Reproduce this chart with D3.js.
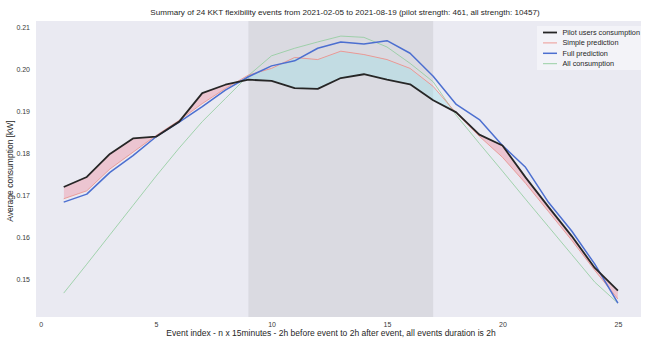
<!DOCTYPE html>
<html>
<head>
<meta charset="utf-8">
<script src="https://cdn.jsdelivr.net/npm/d3@7"></script>
<style>
  html, body { margin: 0; padding: 0; background: #ffffff; }
  svg { display: block; font-family: "Liberation Sans", Arial, sans-serif; }
</style>
</head>
<body>
<svg id="chart" width="646" height="341"></svg>
<script>
// Event index (15-minute steps, 2h before to 2h after the event)
const eventIndex = [1,2,3,4,5,6,7,8,9,10,11,12,13,14,15,16,17,18,19,20,21,22,23,24,25];

// Average consumption [kW] per series
const pilotConsumption = [0.1719,0.1743,0.1798,0.1835,0.1839,0.1875,0.1943,0.1963,0.1975,0.1972,0.1955,0.1953,0.1979,0.1988,0.1975,0.1964,0.1926,0.1897,0.1844,0.1818,0.1742,0.1671,0.1602,0.1526,0.1472];
const simplePrediction = [0.1691,0.1710,0.1762,0.1802,0.1842,0.1878,0.1918,0.1954,0.1986,0.2002,0.2028,0.2023,0.2043,0.2035,0.2023,0.2002,0.1959,0.1895,0.1840,0.1790,0.1728,0.1660,0.1592,0.1520,0.1452];
const fullPrediction   = [0.1683,0.1702,0.1754,0.1794,0.1839,0.1874,0.1911,0.1950,0.1982,0.2008,0.2020,0.2050,0.2065,0.2060,0.2068,0.2038,0.1983,0.1916,0.1880,0.1818,0.1766,0.1682,0.1614,0.1535,0.1442];
const allConsumption   = [0.1466,0.1535,0.1605,0.1675,0.1745,0.1812,0.1875,0.1930,0.1985,0.2032,0.2050,0.2065,0.2079,0.2076,0.2053,0.2014,0.1970,0.1890,0.1823,0.1757,0.1690,0.1624,0.1558,0.1492,0.1442];

// Event window (start / end index)
const eventWindow = [9, 17];

const xTicks = [0, 5, 10, 15, 20, 25];
const yTicks = [0.15, 0.16, 0.17, 0.18, 0.19, 0.20, 0.21];

const seriesNames = ["Pilot users consumption", "Simple prediction", "Full prediction", "All consumption"];

const titleText = "Summary of 24 KKT flexibility events from 2021-02-05 to 2021-08-19 (pilot strength: 461, all strength: 10457)";
const xLabelText = "Event index - n x 15minutes - 2h before event to 2h after event, all events duration is 2h";
const yLabelText = "Average consumption [kW]";

// ---- layout ----
const svg = d3.select("#chart");
const plot = { left: 36, right: 641, top: 21, bottom: 317 };

const x = d3.scaleLinear().domain([-0.2, 26.0]).range([plot.left, plot.right]);
const y = d3.scaleLinear().domain([0.1409, 0.2115]).range([plot.bottom, plot.top]);

const rows = eventIndex.map((e, i) => ({
  e,
  pilot: pilotConsumption[i],
  simple: simplePrediction[i],
  full: fullPrediction[i],
  all: allConsumption[i]
}));

// plot background
svg.append("rect")
  .attr("x", plot.left).attr("y", plot.top)
  .attr("width", plot.right - plot.left).attr("height", plot.bottom - plot.top)
  .attr("fill", "#eaeaf2");

// event window shading
svg.append("rect")
  .attr("x", x(eventWindow[0])).attr("y", plot.top)
  .attr("width", x(eventWindow[1]) - x(eventWindow[0]))
  .attr("height", plot.bottom - plot.top)
  .attr("fill", "#808080").attr("fill-opacity", 0.15);

// clip regions above / below the simple prediction
const defs = svg.append("defs");
defs.append("clipPath").attr("id", "aboveSimple")
  .append("path")
  .attr("d", d3.area().x(d => x(d.e)).y0(plot.top - 5).y1(d => y(d.simple))(rows));
defs.append("clipPath").attr("id", "belowSimple")
  .append("path")
  .attr("d", d3.area().x(d => x(d.e)).y0(d => y(d.simple)).y1(plot.bottom + 5)(rows));

const between = d3.area().x(d => x(d.e)).y0(d => y(d.simple)).y1(d => y(d.pilot));

// pilot above prediction -> pink; pilot below prediction -> light cyan
svg.append("path").attr("d", between(rows))
  .attr("clip-path", "url(#aboveSimple)")
  .attr("fill", "#f07890").attr("fill-opacity", 0.33);
svg.append("path").attr("d", between(rows))
  .attr("clip-path", "url(#belowSimple)")
  .attr("fill", "#90e0e8").attr("fill-opacity", 0.32);

// lines
const styles = [
  { key: "all",    color: "#8fcc9c", width: 0.9, opacity: 0.9 },
  { key: "simple", color: "#ec8f8a", width: 0.9, opacity: 0.95 },
  { key: "full",   color: "#4c6fd0", width: 1.5, opacity: 1 },
  { key: "pilot",  color: "#262626", width: 1.8, opacity: 1 }
];
styles.forEach(s => {
  svg.append("path")
    .datum(rows)
    .attr("fill", "none")
    .attr("stroke", s.color)
    .attr("stroke-width", s.width)
    .attr("stroke-opacity", s.opacity)
    .attr("stroke-linejoin", "round")
    .attr("d", d3.line().x(d => x(d.e)).y(d => y(d[s.key])));
});

// axes (labels only, no tick marks or domain line)
const xAxis = svg.append("g")
  .attr("transform", `translate(0,${plot.bottom})`)
  .call(d3.axisBottom(x).tickValues(xTicks).tickFormat(d3.format("d")).tickSize(0).tickPadding(5));
const yAxis = svg.append("g")
  .attr("transform", `translate(${plot.left},0)`)
  .call(d3.axisLeft(y).tickValues(yTicks).tickFormat(d3.format(".2f")).tickSize(0).tickPadding(6));
[xAxis, yAxis].forEach(g => {
  g.select(".domain").remove();
  g.selectAll("text")
    .attr("fill", "#3a3a3a")
    .style("font-size", "7px")
    .style("font-family", "'Liberation Sans', Arial, sans-serif");
});

// title and axis labels
svg.append("text")
  .attr("x", 345).attr("y", 15)
  .attr("text-anchor", "middle")
  .attr("fill", "#262626")
  .style("font-size", "8.1px")
  .text(titleText);

svg.append("text")
  .attr("x", 331).attr("y", 336)
  .attr("text-anchor", "middle")
  .attr("fill", "#262626")
  .style("font-size", "8.5px")
  .text(xLabelText);

svg.append("text")
  .attr("transform", "translate(13,171) rotate(-90)")
  .attr("text-anchor", "middle")
  .attr("fill", "#262626")
  .style("font-size", "8.5px")
  .text(yLabelText);

// legend
const legendColors = ["#262626", "#ec8f8a", "#4c6fd0", "#8fcc9c"];
const legendWidths = [1.8, 0.9, 1.5, 0.9];
const legend = svg.append("g").attr("transform", "translate(537,26)");
legend.append("rect")
  .attr("x", 0).attr("y", 0).attr("width", 106).attr("height", 44)
  .attr("fill", "#ffffff").attr("fill-opacity", 0.45);
seriesNames.forEach((name, i) => {
  const gy = 6.5 + i * 10.4;
  legend.append("line")
    .attr("x1", 6).attr("x2", 20).attr("y1", gy).attr("y2", gy)
    .attr("stroke", legendColors[i]).attr("stroke-width", legendWidths[i]);
  legend.append("text")
    .attr("x", 25.5).attr("y", gy + 2.5)
    .attr("fill", "#262626")
    .style("font-size", "7.3px")
    .text(name);
});
</script>
</body>
</html>
